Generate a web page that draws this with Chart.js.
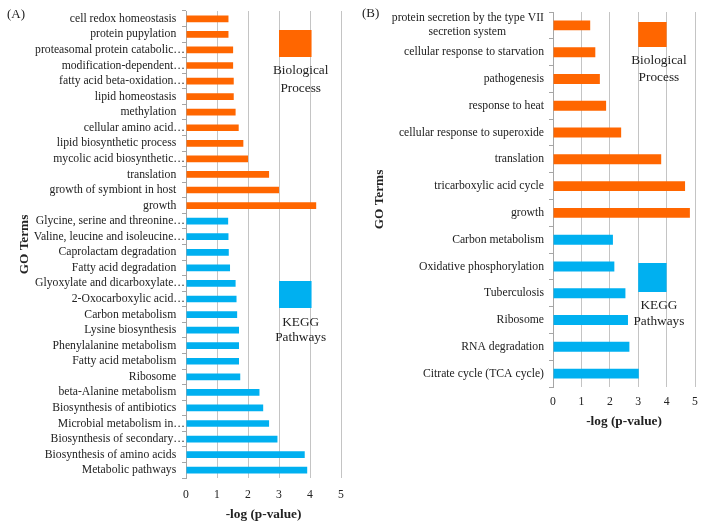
<!DOCTYPE html>
<html>
<head>
<meta charset="utf-8">
<script src="https://cdn.jsdelivr.net/npm/chart.js@4/dist/chart.umd.min.js"></script>
<style>
  body { margin: 0; background: #fff; }
  #wrap { position: relative; width: 704px; height: 523px; overflow: hidden; font-family: "Liberation Serif", "Times New Roman", serif; color: #222; }
  .panel { position: absolute; top: 0; }
  .tag { position: absolute; font-size: 13px; line-height: 1; }
</style>
</head>
<body>
<div id="wrap">
  <div class="panel" style="left:0"><canvas id="chartA" width="350" height="523"></canvas></div>
  <div class="panel" style="left:350px"><canvas id="chartB" width="354" height="430"></canvas></div>
  <div class="tag" style="left:7px; top:7px">(A)</div>
  <div class="tag" style="left:362px; top:6px">(B)</div>
</div>
<script>
// panel A: GO biological process terms, then KEGG pathways
const bpTermsA = ["cell redox homeostasis", "protein pupylation", "proteasomal protein catabolic…",
  "modification-dependent…", "fatty acid beta-oxidation…", "lipid homeostasis", "methylation",
  "cellular amino acid…", "lipid biosynthetic process", "mycolic acid biosynthetic…",
  "translation", "growth of symbiont in host", "growth"];
const bpValuesA = [1.37, 1.37, 1.52, 1.52, 1.54, 1.54, 1.60, 1.70, 1.85, 2.00, 2.68, 3.00, 4.20];
const keggTermsA = ["Glycine, serine and threonine…", "Valine, leucine and isoleucine…",
  "Caprolactam degradation", "Fatty acid degradation", "Glyoxylate and dicarboxylate…",
  "2-Oxocarboxylic acid…", "Carbon metabolism", "Lysine biosynthesis", "Phenylalanine metabolism",
  "Fatty acid metabolism", "Ribosome", "beta-Alanine metabolism", "Biosynthesis of antibiotics",
  "Microbial metabolism in…", "Biosynthesis of secondary…", "Biosynthesis of amino acids",
  "Metabolic pathways"];
const keggValuesA = [1.36, 1.37, 1.38, 1.42, 1.60, 1.63, 1.65, 1.71, 1.71, 1.71, 1.75,
  2.37, 2.49, 2.68, 2.95, 3.83, 3.91];

// panel B
const bpTermsB = [["protein secretion by the type VII", "secretion system"], "cellular response to starvation",
  "pathogenesis", "response to heat", "cellular response to superoxide", "translation",
  "tricarboxylic acid cycle", "growth"];
const bpValuesB = [1.31, 1.49, 1.65, 1.87, 2.40, 3.81, 4.65, 4.82];
const keggTermsB = ["Carbon metabolism", "Oxidative phosphorylation", "Tuberculosis", "Ribosome",
  "RNA degradation", "Citrate cycle (TCA cycle)"];
const keggValuesB = [2.11, 2.16, 2.55, 2.64, 2.69, 3.02];

const xTicks = [0, 1, 2, 3, 4, 5];

const ORANGE = "#ff6600";
const BLUE = "#00b0f0";
const SERIF = '"Liberation Serif", "Times New Roman", serif';
const LABEL_SIZE = 11.7;

Chart.defaults.font.family = SERIF;
Chart.defaults.color = "#222";

const measureCtx = document.createElement("canvas").getContext("2d");
measureCtx.font = LABEL_SIZE + "px " + SERIF;
const NBSP = "\u00a0";

// Excel lets the ellipsis hang past the text edge, so push full labels left a bit
function padLabelA(label) {
  return label.endsWith("…") ? label : label + NBSP + NBSP + NBSP;
}

// two-line label: lines centred on each other, block right aligned
function centerLines(label) {
  if (!Array.isArray(label)) return label;
  const widths = label.map((l) => measureCtx.measureText(l).width);
  const max = Math.max(...widths);
  const sp = measureCtx.measureText(NBSP).width;
  return label.map((l, i) => l + NBSP.repeat(Math.round((max - widths[i]) / 2 / sp)));
}

// keep the plot area exactly where layout.padding puts it
function fixPadding(scale) {
  scale.paddingLeft = 0;
  scale.paddingRight = 0;
  scale.paddingTop = 0;
  scale.paddingBottom = 0;
}

const boxLegend = {
  id: "boxLegend",
  afterDraw(chart, args, opts) {
    const { ctx, chartArea, scales } = chart;
    const x = scales.x;
    opts.items.forEach((item) => {
      const x0 = x.getPixelForValue(item.from);
      const x1 = x.getPixelForValue(item.to);
      ctx.save();
      ctx.fillStyle = item.color;
      ctx.fillRect(x0, chartArea.top + item.top, x1 - x0, item.height);
      ctx.fillStyle = "#222";
      ctx.font = "13.3px " + SERIF;
      ctx.textAlign = "center";
      ctx.textBaseline = "middle";
      item.text.forEach((t, i) => {
        ctx.fillText(t, x.getPixelForValue(item.textAt), chartArea.top + item.textTop + i * item.gap);
      });
      ctx.restore();
    });
  },
};

function makeChart(id, cfg) {
  const labels = cfg.bpTerms.concat(cfg.keggTerms);
  const values = cfg.bpValues.concat(cfg.keggValues);
  const colors = cfg.bpTerms.map(() => ORANGE).concat(cfg.keggTerms.map(() => BLUE));

  return new Chart(document.getElementById(id), {
    type: "bar",
    data: {
      labels: labels,
      datasets: [{
        data: values,
        backgroundColor: colors,
        borderWidth: 0,
        barPercentage: cfg.barPct,
        categoryPercentage: 1,
      }],
    },
    options: {
      indexAxis: "y",
      responsive: false,
      animation: false,
      events: [],
      layout: { padding: { left: 0, right: 9, top: cfg.top, bottom: 0 } },
      plugins: {
        legend: { display: false },
        tooltip: { enabled: false },
        boxLegend: { items: cfg.legend },
      },
      scales: {
        x: {
          min: 0,
          max: 5,
          afterBuildTicks: (scale) => { scale.ticks = xTicks.map((v) => ({ value: v })); },
          afterFit: (scale) => { scale.height = cfg.xHeight; fixPadding(scale); },
          grid: { color: "#c4c4c4", lineWidth: 1, drawTicks: false },
          border: { display: false },
          ticks: { padding: cfg.xTickPad, font: { size: LABEL_SIZE } },
          title: {
            display: true,
            text: "-log (p-value)",
            font: { size: 13.3, weight: "bold" },
            padding: { top: cfg.xTitlePad, bottom: 0 },
          },
        },
        y: {
          afterFit: (scale) => { scale.width = cfg.yWidth; fixPadding(scale); },
          grid: { drawOnChartArea: false, drawTicks: true, tickLength: 4, color: "#a6a6a6" },
          border: { display: true, color: "#a6a6a6" },
          ticks: {
            autoSkip: false,
            padding: cfg.yTickPad,
            font: { size: LABEL_SIZE },
            callback: function (value) {
              return cfg.fmt(this.getLabelForValue(value));
            },
          },
          title: {
            display: true,
            text: "GO Terms",
            font: { size: 13.3, weight: "bold" },
            padding: { top: cfg.yTitlePad, bottom: 0 },
          },
        },
      },
    },
    plugins: [boxLegend],
  });
}

makeChart("chartA", {
  bpTerms: bpTermsA, bpValues: bpValuesA, keggTerms: keggTermsA, keggValues: keggValuesA,
  barPct: 0.43, top: 11, xHeight: 45, xTickPad: 10, xTitlePad: 8,
  yWidth: 186, yTickPad: -3, yTitlePad: 17, fmt: padLabelA,
  legend: [
    { color: ORANGE, from: 3, to: 4.05, top: 19, height: 27, text: ["Biological", "Process"], textAt: 3.7, textTop: 60, gap: 17.5 },
    { color: BLUE, from: 3, to: 4.05, top: 270, height: 27, text: ["KEGG", "Pathways"], textAt: 3.7, textTop: 312, gap: 15 },
  ],
});

makeChart("chartB", {
  bpTerms: bpTermsB, bpValues: bpValuesB, keggTerms: keggTermsB, keggValues: keggValuesB,
  barPct: 0.37, top: 12, xHeight: 43, xTickPad: 8, xTitlePad: 4,
  yWidth: 203, yTickPad: 5, yTitlePad: 22, fmt: centerLines,
  legend: [
    { color: ORANGE, from: 3, to: 4, top: 10, height: 25, text: ["Biological", "Process"], textAt: 3.73, textTop: 49, gap: 17 },
    { color: BLUE, from: 3, to: 4, top: 251, height: 29, text: ["KEGG", "Pathways"], textAt: 3.73, textTop: 294, gap: 16 },
  ],
});
</script>
</body>
</html>
